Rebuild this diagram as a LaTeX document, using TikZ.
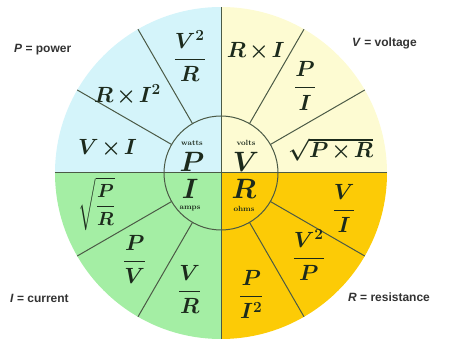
\RequirePackage{fix-cm}
\documentclass[tikz,border=0pt]{standalone}
\usepackage{amsmath}
\usepackage{fontspec}
\newfontfamily\lblfont{Liberation Sans}
\usepackage{tikz}
\usetikzlibrary{positioning}

\definecolor{qblue}{HTML}{D4F4FA}
\definecolor{qyellow}{HTML}{FDFBD2}
\definecolor{qgreen}{HTML}{A4EEA4}
\definecolor{qgold}{HTML}{FCCB06}
\definecolor{spoke}{HTML}{4B5A46}
\definecolor{ink}{HTML}{1C2A1C}
\newcommand{\tms}{\mskip2mu{\times}\mskip2mu}

\begin{document}
\begin{tikzpicture}[
  formula/.style={font=\fontsize{22}{24}\selectfont\boldmath, text=ink, inner sep=0pt},
  unit/.style={font=\fontsize{28}{30}\selectfont\boldmath, text=ink, inner sep=0pt},
  unitname/.style={font=\fontsize{7.5}{8}\selectfont\bfseries, text=ink, inner sep=0pt},
  legend/.style={font=\lblfont\fontsize{12}{14}\selectfont\bfseries, text=black!80, anchor=west, inner sep=0pt},
  line/.style={draw=spoke, line width=1pt},
]
\useasboundingbox (-221pt,-166pt) rectangle (236pt,173pt);

\fill[qblue] (0,0) -- (180:166pt) arc (180:90:166pt) -- cycle;
\fill[qyellow] (0,0) -- (90:166pt) arc (90:0:166pt) -- cycle;
\fill[qgold] (0,0) -- (0:166pt) arc (0:-90:166pt) -- cycle;
\fill[qgreen] (0,0) -- (-90:166pt) arc (-90:-180:166pt) -- cycle;

\draw[line] (-166pt,0) -- (166pt,0);
\draw[line] (0,-166pt) -- (0,166pt);
\foreach \a in {30,60,120,150,210,240,300,330}
  \draw[line] (\a:57pt) -- (\a:166pt);
\draw[line] (0,0) circle (57pt);

\node[formula] (vsqr) at (105:121pt) {$\dfrac{V^2}{R}$};
\node[formula] (risq) at (140:122pt) {$R\tms I^2$};
\node[formula] (vi) at (168:116pt) {$V\tms I$};
\node[formula] (ri) at (74:126pt) {$R\tms I$};
\node[formula] (pdi) at (46:121pt) {$\dfrac{P}{I}$};
\node[formula] (sqpr) at (12:112pt) {$\sqrt{P\tms R}$};
\node[formula] (vdi) at (-16:128pt) {$\dfrac{V}{I}$};
\node[formula] (vsqp) at (-43:120pt) {$\dfrac{V^2}{P}$};
\node[formula] (pdisq) at (-76:125pt) {$\dfrac{P}{I^2}$};
\node[formula, font=\fontsize{19}{21}\selectfont\boldmath] (sqpdr) at (-166:128pt) {$\sqrt{\dfrac{P}{R}}$};
\node[formula] (pdv) at (-135:122pt) {$\dfrac{P}{V}$};
\node[formula] (vdr) at (-105:121pt) {$\dfrac{V}{R}$};

\node[unit] (pw) at (-29pt,11pt) {$P$};
\node[unit] (vt) at (25pt,11pt) {$V$};
\node[unit] (ia) at (-31pt,-16pt) {$I$};
\node[unit] (ro) at (23pt,-16pt) {$R$};
\node[unitname, above=6pt of pw] (watts) {watts};
\node[unitname, above=6pt of vt] (volts) {volts};
\node[unitname, below=7pt of ia] (amps) {amps};
\node[unitname, below=7pt of ro] (ohms) {ohms};

\node[legend] (power) at (-207pt,123pt) {\textit{P} = power};
\node[legend] (voltage) at (131pt,130pt) {\textit{V} = voltage};
\node[legend] (current) at (-211pt,-125pt) {\textit{I} = current};
\node[legend] (resist) at (127pt,-124pt) {\textit{R} = resistance};
\end{tikzpicture}
\end{document}
